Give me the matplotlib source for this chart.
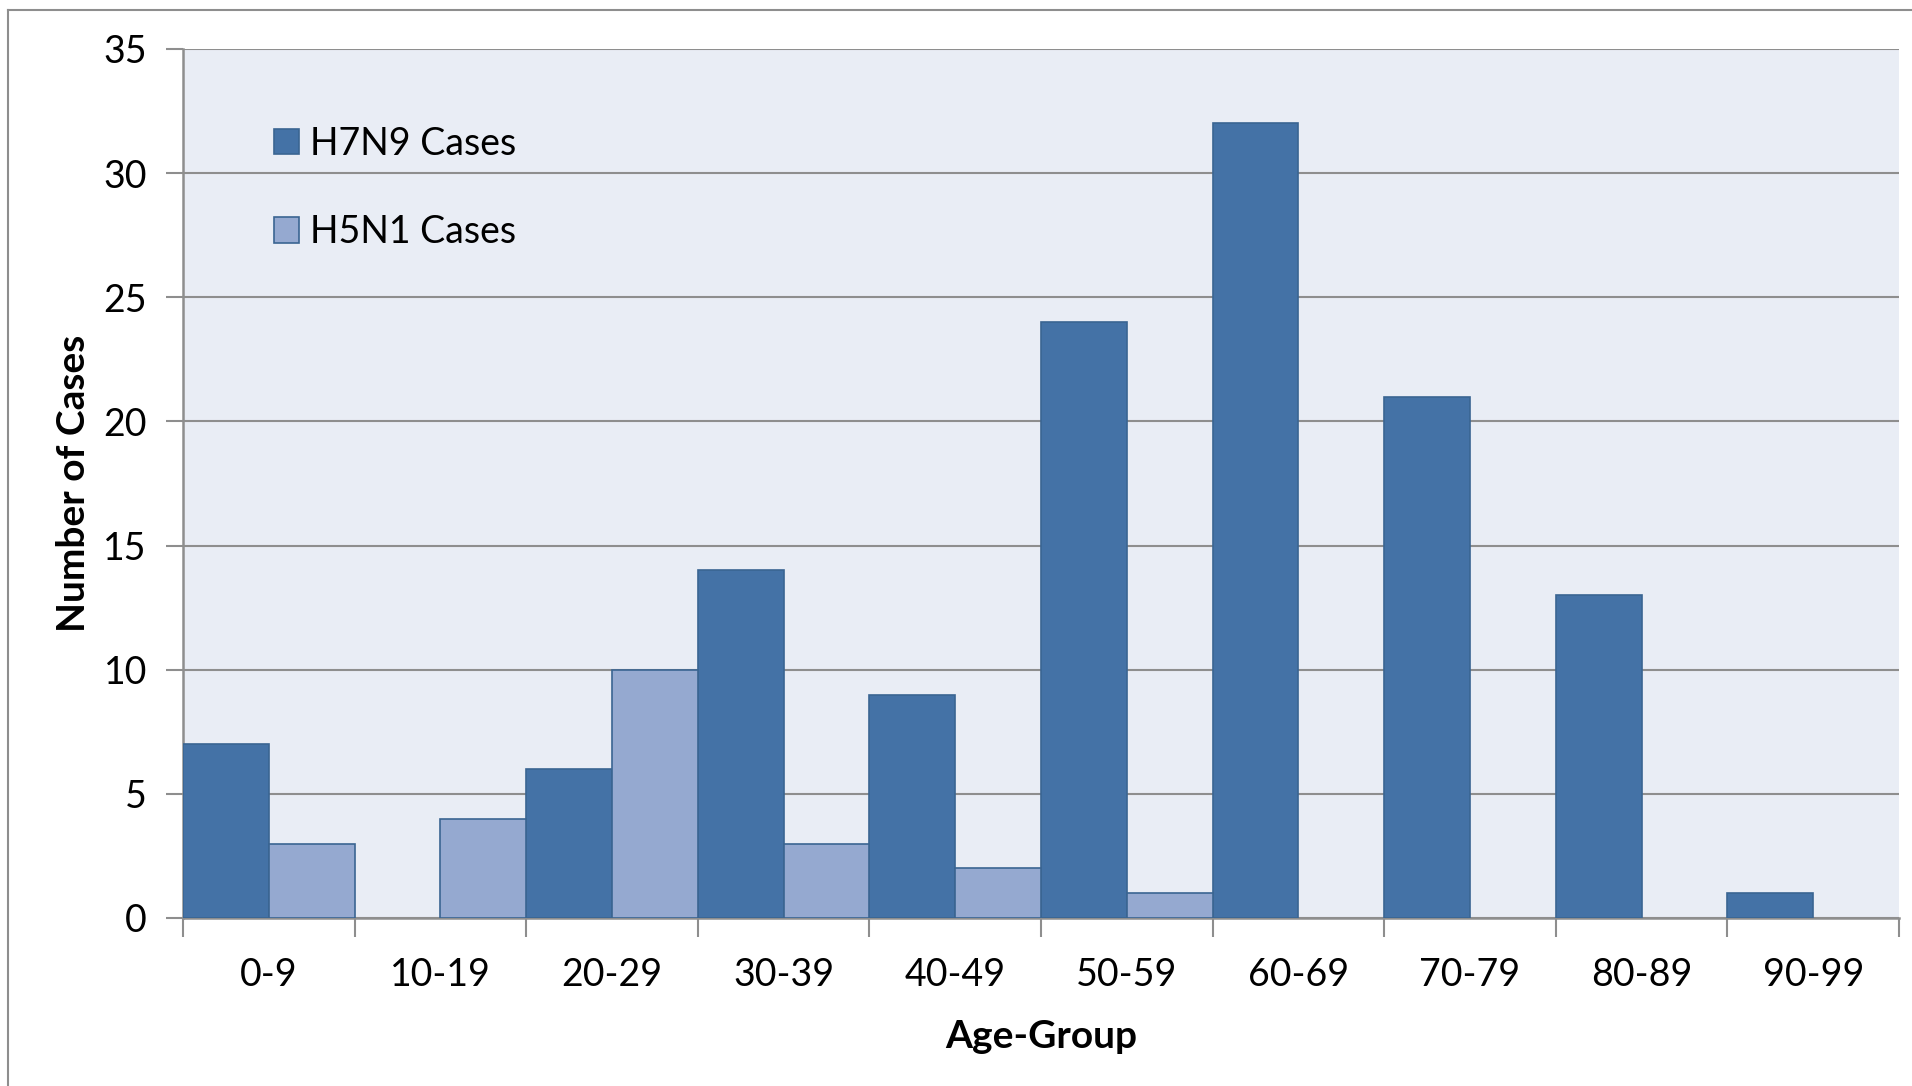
import matplotlib
matplotlib.use("Agg")
import matplotlib.pyplot as plt
import numpy as np
from matplotlib.lines import Line2D

plt.rcParams['font.family'] = ['Lato', 'DejaVu Sans']

# data
age_groups = ["0-9", "10-19", "20-29", "30-39", "40-49",
              "50-59", "60-69", "70-79", "80-89", "90-99"]
h7n9_cases = [7, 0, 6, 14, 9, 24, 32, 21, 13, 1]
h5n1_cases = [3, 4, 10, 3, 2, 1, 0, 0, 0, 0]

dark_blue = "#4472A6"
light_blue = "#95A9D0"
edge_col = "#3A6592"
grid_col = "#8E8E8E"

fig = plt.figure(figsize=(19.12, 10.86), dpi=100)
ax = fig.add_axes([0.0957, 0.1547, 0.8975, 0.8002])
ax.set_facecolor("#E9EDF5")

x = np.arange(len(age_groups))
w = 0.5
# no outline on empty bars
lw7 = [1.2 if v > 0 else 0 for v in h7n9_cases]
lw5 = [1.2 if v > 0 else 0 for v in h5n1_cases]
ax.bar(x - w / 2, h7n9_cases, w, color=dark_blue, edgecolor=edge_col,
       linewidth=lw7, label="H7N9 Cases", zorder=3)
ax.bar(x + w / 2, h5n1_cases, w, color=light_blue, edgecolor=edge_col,
       linewidth=lw5, label="H5N1 Cases", zorder=3)

ax.set_xlim(-0.5, len(age_groups) - 0.5)
ax.set_ylim(0, 35)
ax.set_yticks(range(0, 36, 5))
ax.yaxis.grid(True, color=grid_col, linewidth=1.5, zorder=0)
ax.set_axisbelow(True)

# category ticks sit on the boundaries, labels in the middle
ax.set_xticks(np.arange(-0.5, len(age_groups), 1.0))
ax.set_xticklabels([])
ax.set_xticks(x, minor=True)
ax.set_xticklabels(age_groups, minor=True, fontsize=27)
ax.tick_params(axis="x", which="minor", length=0, pad=28)
ax.tick_params(axis="x", which="major", length=14, width=1.5, color=grid_col)
ax.tick_params(axis="y", length=12, width=1.5, color=grid_col, labelsize=27, pad=14)

for s in ["top", "right"]:
    ax.spines[s].set_visible(False)
for s in ["left", "bottom"]:
    ax.spines[s].set_color(grid_col)
    ax.spines[s].set_linewidth(1.8)

ax.set_xlabel("Age-Group", fontsize=28, fontweight="bold", labelpad=19)
ax.set_ylabel("Number of Cases", fontsize=28, fontweight="bold", labelpad=9)

leg = ax.legend(loc="center left", bbox_to_anchor=(0.053, 0.840), frameon=False,
                fontsize=27, handlelength=0.67, handleheight=0.67,
                handletextpad=0.3, labelspacing=1.4, borderpad=0,
                borderaxespad=0)

# outer chart frame (only left and top visible in the reference)
fig.add_artist(Line2D([8 / 1912, 8 / 1912], [0, 1 - 10 / 1086],
                      color=grid_col, linewidth=1.5, transform=fig.transFigure))
fig.add_artist(Line2D([8 / 1912, 1], [1 - 10 / 1086, 1 - 10 / 1086],
                      color=grid_col, linewidth=1.5, transform=fig.transFigure))

fig.savefig("out.png", dpi=100)
